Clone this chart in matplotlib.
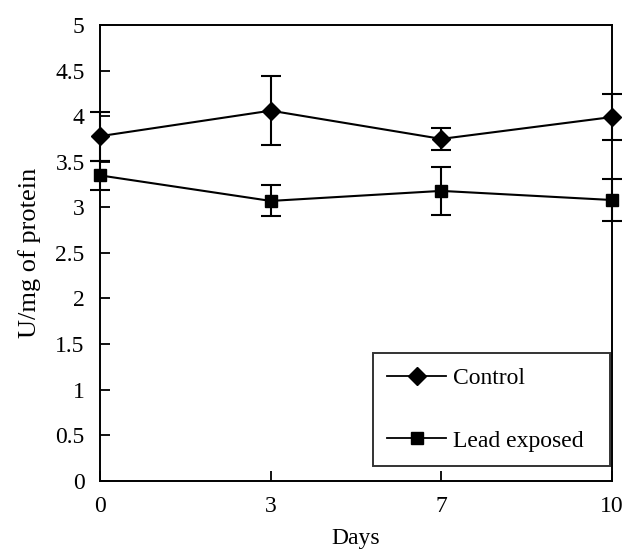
import matplotlib
matplotlib.use("Agg")
import matplotlib.pyplot as plt
from matplotlib.lines import Line2D
import numpy as np

plt.rcParams["font.family"] = ["Liberation Serif", "DejaVu Serif"]

days = ["0", "3", "7", "10"]
control_mean = [3.78, 4.06, 3.75, 3.99]
control_err = [0.27, 0.38, 0.12, 0.25]
lead_mean = [3.35, 3.07, 3.18, 3.08]
lead_err = [0.16, 0.17, 0.26, 0.23]

x = np.arange(len(days))

fig = plt.figure(figsize=(6.29, 5.54), dpi=100)
ax = fig.add_axes([0.159, 0.132, 0.814, 0.823])

for mean, err, mk in [(control_mean, control_err, "D"), (lead_mean, lead_err, "s")]:
    ax.errorbar(x, mean, yerr=err, color="black", marker=mk, markersize=9,
                linewidth=1.5, capsize=7, elinewidth=1.5, capthick=1.5)
# markers at the axis edges should not be cut in half
for art in ax.lines + ax.collections:
    art.set_clip_on(False)

ax.set_xlim(0, 3)
ax.set_ylim(0, 5)
ax.set_xticks(x)
ax.set_xticklabels(days)
ax.set_yticks(np.arange(0, 5.01, 0.5))
ax.set_yticklabels(["0", "0.5", "1", "1.5", "2", "2.5", "3", "3.5", "4", "4.5", "5"])
ax.tick_params(direction="in", length=7, width=1.3, labelsize=17)
ax.tick_params(axis="y", pad=11)
ax.tick_params(axis="x", pad=11)
for s in ax.spines.values():
    s.set_linewidth(1.4)

ax.set_xlabel("Days", fontsize=17, labelpad=8)
ax.set_ylabel("U/mg of protein", fontsize=19, labelpad=10)

handles = [Line2D([], [], color="black", lw=1.3, marker="D", markersize=9),
           Line2D([], [], color="black", lw=1.3, marker="s", markersize=9)]
leg = ax.legend(handles, ["Control", "Lead exposed  "], loc="lower right",
                fontsize=17, frameon=True, fancybox=False, edgecolor="black",
                labelspacing=1.75, handlelength=2.5, handletextpad=0.3,
                borderpad=0.6, borderaxespad=0, bbox_to_anchor=(0.996, 0.033))
leg.get_frame().set_linewidth(1.4)

fig.savefig("out.png", dpi=100)
